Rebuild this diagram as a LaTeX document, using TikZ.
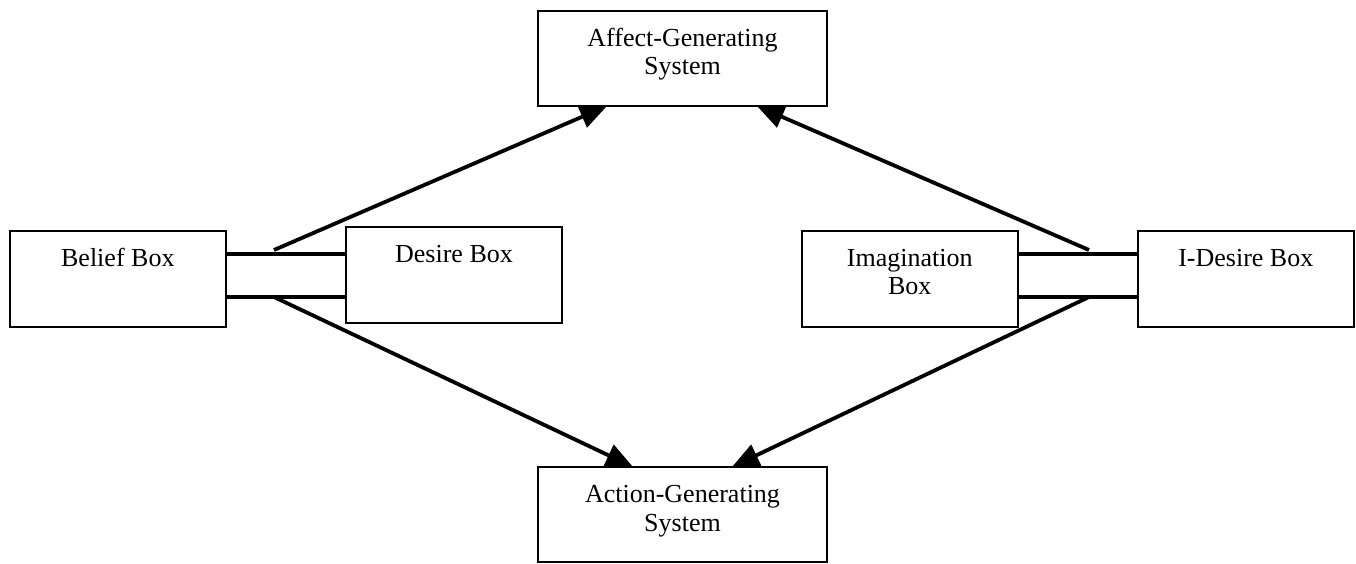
\documentclass[tikz,border=0pt]{standalone}
\usepackage{fontspec}
\setmainfont{Liberation Serif}
\usetikzlibrary{arrows.meta}
\begin{document}
\begin{tikzpicture}[x=0.5pt,y=-0.5pt,
  box/.style={draw,line width=1pt,rectangle,inner sep=0pt,outer sep=0pt,minimum height=48pt,minimum width=108pt},
  lbl/.style={anchor=north,yshift=-7.6pt,inner sep=0pt,align=center,font=\fontsize{13}{14.3}\selectfont},
  lab/.style={label={[lbl]north:{#1}}},
  arr/.style={line width=1.9pt,-{Triangle[length=13.5pt,width=11.5pt]}},
  link/.style={line width=1.8pt}
]
\useasboundingbox (0,0) rectangle (1356,563);

\node[box,minimum width=144.5pt,minimum height=47.7pt,lab={\strut Affect-Generating\\System}] (affect) at (682.5,58.3) {};
\node[box,minimum width=144.5pt,minimum height=47.4pt,lab={\strut Action-Generating\\System}] (action) at (682.5,514.3) {};
\node[box,lab={\strut Belief Box}] (belief) at (117.8,278.7) {};
\node[box,lab={\strut Desire Box}] (desire) at (454,274.7) {};
\node[box,lab={\strut Imagination\\Box}] (imag) at (909.8,278.7) {};
\node[box,lab={\strut I-Desire Box}] (idesire) at (1245.8,278.7) {};

% parallel links
\draw[link] (belief.east |- 0,254) -- (desire.west |- 0,254);
\draw[link] (belief.east |- 0,296.7) -- (desire.west |- 0,296.7);
\draw[link] (imag.east |- 0,254) -- (idesire.west |- 0,254);
\draw[link] (imag.east |- 0,296.7) -- (idesire.west |- 0,296.7);

% arrow origins on the links
\coordinate (lu) at (274,250);
\coordinate (ll) at (274,297);
\coordinate (ru) at (1089,250);
\coordinate (rl) at (1089,297);

\draw[arr] (lu) -- (affect.south -| 607,0);
\draw[arr] (ru) -- (affect.south -| 757,0);
\draw[arr] (ll) -- (action.north -| 633,0);
\draw[arr] (rl) -- (action.north -| 732,0);
\end{tikzpicture}
\end{document}
